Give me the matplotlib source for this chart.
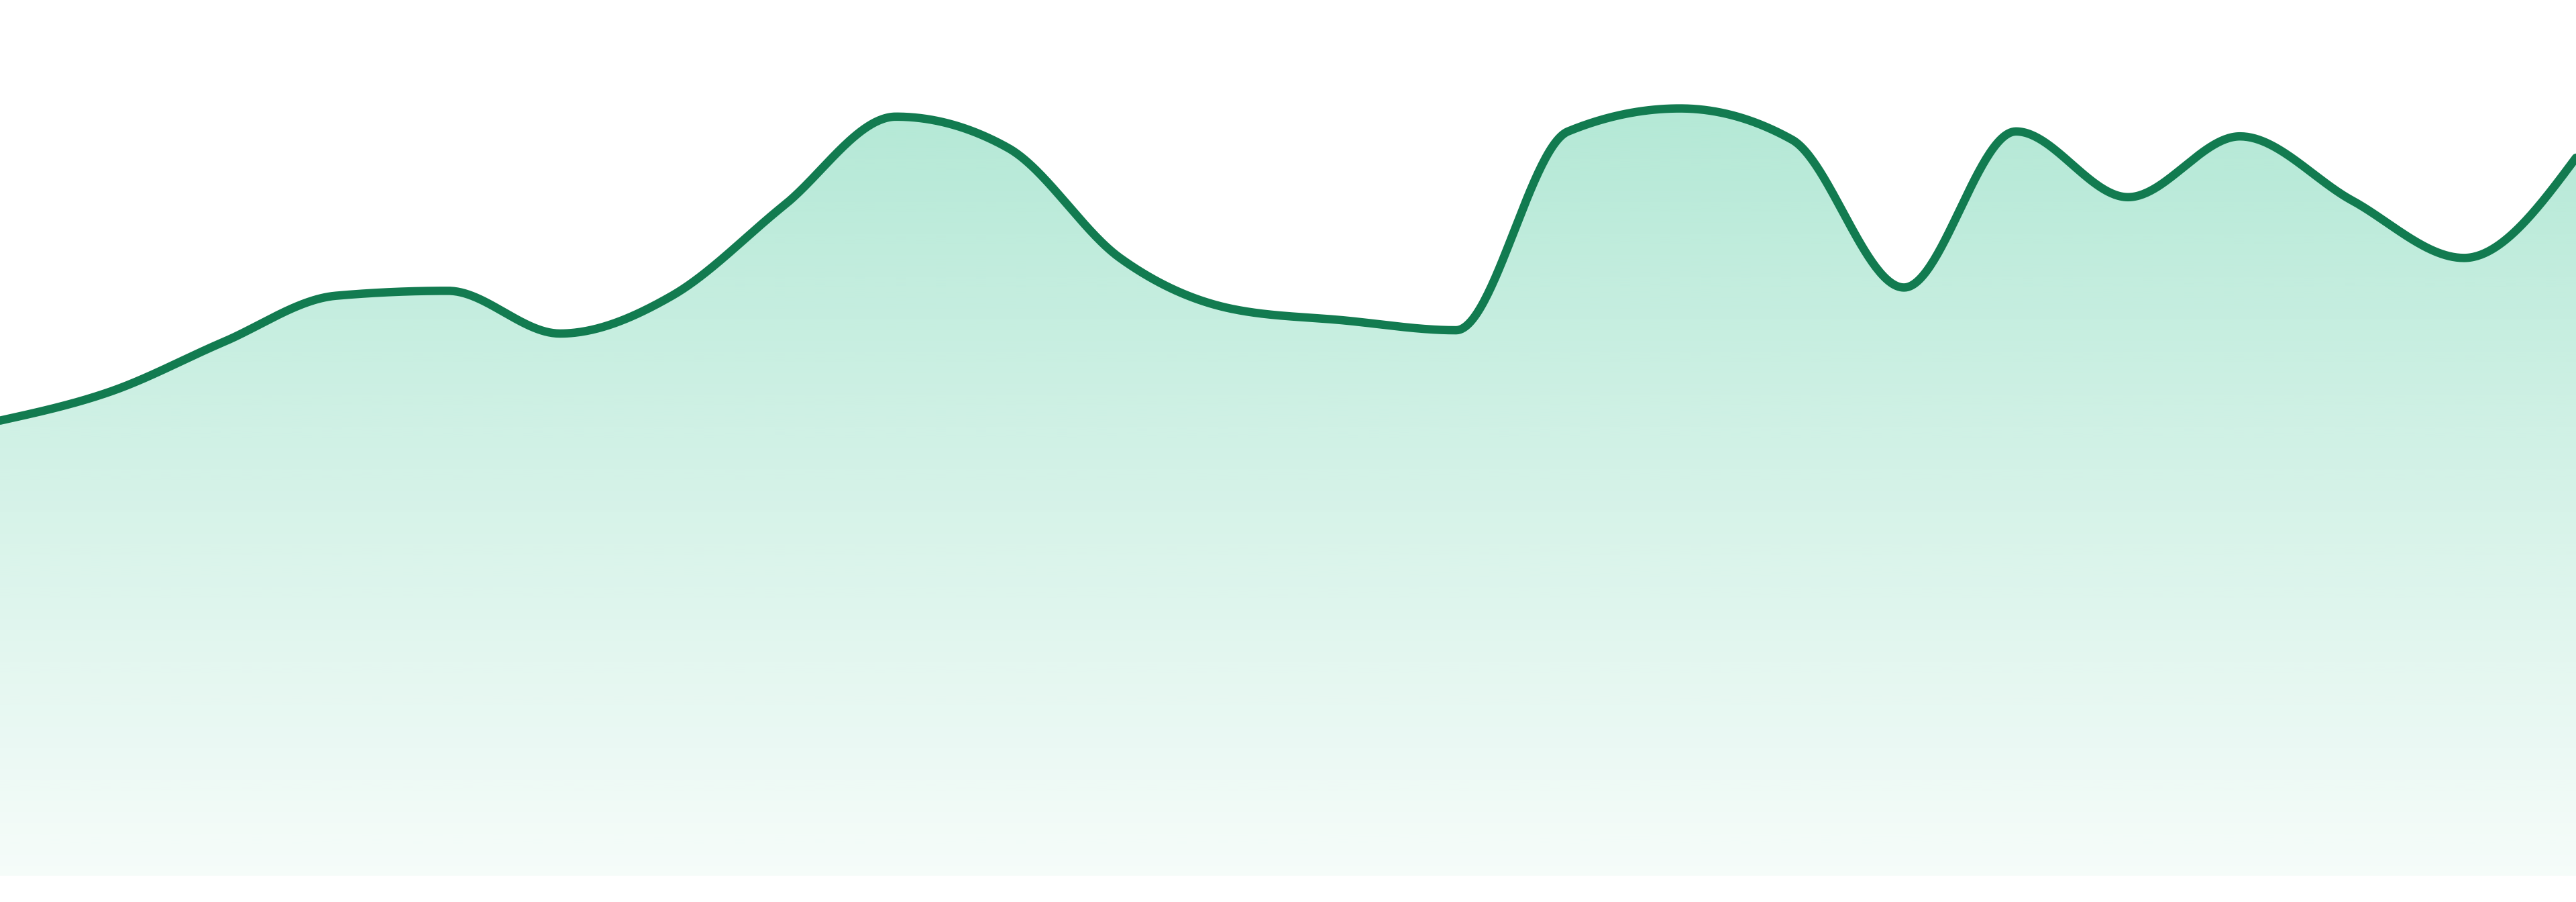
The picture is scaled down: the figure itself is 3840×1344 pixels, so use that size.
import numpy as np
import matplotlib
matplotlib.use('Agg')
import matplotlib.pyplot as plt

# values (height above baseline)
values = [277, 295, 325, 353, 356, 330, 353, 408, 462, 443, 376, 345,
          338, 332, 453, 467, 448, 358, 453, 413, 450, 411, 376, 437]
line_color = '#127b50'
fill_color = '#14b97e'


def monotone_slopes(x, y):
    # same tangents as d3.curveMonotoneX
    n = len(x)
    h = np.diff(x)
    s = np.diff(y) / h
    t = np.zeros(n)
    for i in range(1, n - 1):
        p = (s[i - 1] * h[i] + s[i] * h[i - 1]) / (h[i - 1] + h[i])
        t[i] = (np.sign(s[i - 1]) + np.sign(s[i])) * min(abs(s[i - 1]), abs(s[i]), 0.5 * abs(p))
    t[0] = (3 * s[0] - t[1]) / 2
    t[-1] = (3 * s[-1] - t[-2]) / 2
    return t


def smooth(x, y, steps=60):
    t = monotone_slopes(x, y)
    xs, ys = [], []
    for i in range(len(x) - 1):
        h = x[i + 1] - x[i]
        u = np.linspace(0, 1, steps, endpoint=False)
        h00 = 2 * u**3 - 3 * u**2 + 1
        h10 = u**3 - 2 * u**2 + u
        h01 = -2 * u**3 + 3 * u**2
        h11 = u**3 - u**2
        xs.append(x[i] + u * h)
        ys.append(h00 * y[i] + h10 * h * t[i] + h01 * y[i + 1] + h11 * h * t[i + 1])
    xs.append([x[-1]])
    ys.append([y[-1]])
    return np.concatenate(xs), np.concatenate(ys)


x = np.arange(len(values), dtype=float)
y = np.array(values, dtype=float)
xs, ys = smooth(x, y)

fig = plt.figure(figsize=(38.4, 13.44), dpi=100)
ax = fig.add_axes([0, 0, 1, 1])
ax.set_xlim(0, len(values) - 1)
ax.set_ylim(-16, 533)
ax.axis('off')

# gradient fill under the curve
top = ys.max()
rgba = np.zeros((256, 1, 4))
rgba[..., :3] = matplotlib.colors.to_rgb(fill_color)
rgba[:, 0, 3] = np.linspace(0.04, 0.32, 256)
poly = ax.fill_between(xs, 0, ys, color='none', lw=0)
img = ax.imshow(rgba, extent=[0, len(values) - 1, 0, top], origin='lower',
                aspect='auto', interpolation='bilinear', zorder=1)
img.set_clip_path(poly.get_paths()[0], transform=ax.transData)

ax.plot(xs, ys, color=line_color, lw=9, solid_capstyle='round', zorder=3)

fig.savefig('out.png', dpi=100, facecolor='white')
